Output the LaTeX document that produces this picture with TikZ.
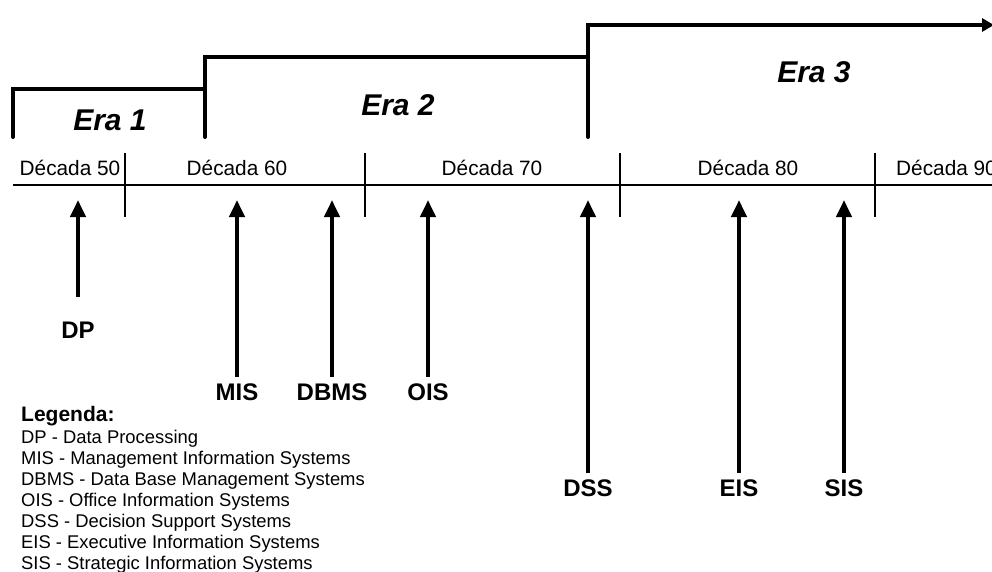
\documentclass[tikz,border=0pt]{standalone}
\usepackage{fontspec}
\setmainfont{Liberation Sans}
\usetikzlibrary{arrows.meta}
\begin{document}
\begin{tikzpicture}
        [
            x = 1pt, y = -1pt,
            eraline/.style = {line width=4pt, line cap=round, line join=miter},
            eralabel/.style = {anchor=base, inner sep=0pt, font=\fontsize{30}{36}\selectfont\bfseries\itshape},
            decade/.style = {anchor=base, inner sep=0pt, font=\fontsize{20.8}{24}\selectfont},
            sysarrow/.style = {line width=4pt, -{Triangle[width=15pt,length=17pt]}},
            syslabel/.style = {anchor=base, inner sep=0pt, font=\fontsize{24}{28}\selectfont\bfseries},
            legend/.style = {anchor=base west, inner sep=0pt, font=\fontsize{18.4}{21}\selectfont},
        ]
        \clip (0,0) rectangle (992,571);
        \useasboundingbox (0,0) rectangle (992,571);

        % eras
        \coordinate (e1) at (13,137);
        \coordinate (e2) at (205,137);
        \coordinate (e3) at (588,137);
        \coordinate (end) at (994,25);
        \draw[eraline] (e1) |- (205,89) -- (e2);
        \draw[eraline] (205,89) |- (588,57) -- (e3);
        \draw[eraline, -{Triangle[width=13pt,length=12pt]}, line cap=butt] (588,57) |- (end);
        \node[eralabel] (era1) at (110,130) {Era 1};
        \node[eralabel] (era2) at (398,115) {Era 2};
        \node[eralabel] (era3) at (814,82) {Era 3};

        % decades
        \coordinate (axisL) at (13,185);
        \coordinate (axisR) at (992,185);
        \draw[line width=1.5pt] (axisL) -- (axisR);
        \foreach \x [count=\i] in {125,365,620,875} {
            \coordinate (sepT\i) at (\x,153);
            \coordinate (sepB\i) at (\x,217);
            \draw[line width=1.2pt] (sepT\i) -- (sepB\i);
        }
        \node[decade] (d50) at (70,175) {Década 50};
        \node[decade] (d60) at (237,175) {Década 60};
        \node[decade] (d70) at (492,175) {Década 70};
        \node[decade] (d80) at (748,175) {Década 80};
        \node[decade, anchor=base west] (d90) at (896,175) {Década 90};

        % systems
        \foreach \name/\x/\foot/\base in {DP/78/297/338, MIS/237/377/400, DBMS/332/377/400,
                OIS/428/377/400, DSS/588/473/496, EIS/739/473/496, SIS/844/473/496} {
            \node[syslabel] (\name) at (\x,\base) {\name};
            \coordinate (\name-foot) at (\x,\foot);
            \coordinate (\name-tip) at (\x,200);
            \draw[sysarrow] (\name-foot) -- (\name-tip);
        }

        % legend
        \node[legend, font=\fontsize{21}{24}\selectfont\bfseries] (leg) at (21,421) {Legenda:};
        \foreach \txt [count=\i] in {DP - Data Processing, MIS - Management Information Systems,
                DBMS - Data Base Management Systems, OIS - Office Information Systems,
                DSS - Decision Support Systems, EIS - Executive Information Systems,
                SIS - Strategic Information Systems} {
            \node[legend] (leg\i) at (21,422+21*\i) {\txt};
        }
    \end{tikzpicture}
\end{document}
